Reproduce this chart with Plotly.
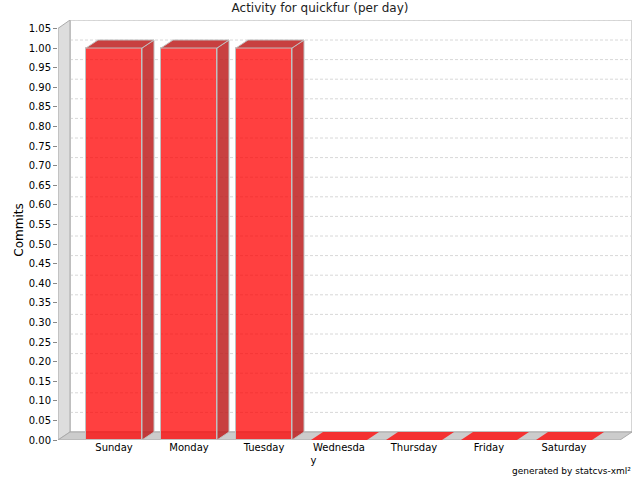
import plotly.graph_objects as go

# ---- data ----
days = ["Sunday", "Monday", "Tuesday", "Wednesday", "Thursday", "Friday", "Saturday"]
day_labels = ["Sunday", "Monday", "Tuesday", "Wednesda<br>y" + "\u00a0" * 16, "Thursday", "Friday", "Saturday"]
commits = [1, 1, 1, 0, 0, 0, 0]
y_ticks = [round(0.05 * k, 2) for k in range(22)]  # 0.00 .. 1.05

# ---- geometry (in data units) ----
px_per_cat = 75.0
px_per_unit = 392.0
x_lo = -(114 - 58) / px_per_cat
x_hi = (632 - 114) / px_per_cat
y_hi = 420 / px_per_unit
dx = 12 / px_per_cat
dy = 8 / px_per_unit
bw = 56 / px_per_cat
x_idx = list(range(len(days)))

WALL = "#dddddd"
FLOOR = "#cccccc"
EDGE = "#aaaaaa"
FRONT = "rgba(255,0,0,0.75)"
DARK = "rgba(190,30,30,0.85)"

fig = go.Figure()
shapes = []

# back wall outline
shapes.append(dict(type="rect", xref="x", yref="y", x0=x_lo + dx, x1=x_hi, y0=dy, y1=y_hi,
                   line=dict(color=EDGE, width=1), fillcolor="white", layer="below"))
# gridlines on back wall
for t in y_ticks[1:]:
    shapes.append(dict(type="line", xref="x", yref="y", x0=x_lo + dx, x1=x_hi, y0=t + dy, y1=t + dy,
                       line=dict(color="#d8d8d8", width=1, dash="3px,2px"), layer="below"))
# left wall
shapes.append(dict(type="path", xref="x", yref="y",
                   path=f"M{x_lo},0 L{x_lo + dx},{dy} L{x_lo + dx},{y_hi} L{x_lo},{y_ticks[-1]} Z",
                   fillcolor=WALL, line=dict(color=EDGE, width=1), layer="below"))
# floor
shapes.append(dict(type="path", xref="x", yref="y",
                   path=f"M{x_lo},0 L{x_lo + dx},{dy} L{x_hi},{dy} L{x_hi - dx},0 Z",
                   fillcolor=FLOOR, line=dict(color=EDGE, width=1), layer="below"))

# zero-value bars: only their top face on the floor
for i, v in zip(x_idx, commits):
    if v == 0:
        fig.add_trace(go.Scatter(
            x=[i - bw / 2, i - bw / 2 + dx, i + bw / 2 + dx, i + bw / 2, i - bw / 2],
            y=[0, dy, dy, 0, 0], fill="toself", mode="lines",
            fillcolor="rgba(245,40,40,0.95)", line=dict(width=0), hoverinfo="skip", showlegend=False))

# front faces
fig.add_trace(go.Bar(x=[i for i, v in zip(x_idx, commits) if v > 0],
                     y=[v for v in commits if v > 0], width=bw,
                     marker=dict(color=FRONT, line=dict(color="#c0c0c0", width=1)),
                     showlegend=False, hoverinfo="skip"))

# side and top faces
for i, v in zip(x_idx, commits):
    if v > 0:
        r = i + bw / 2
        l = i - bw / 2
        fig.add_trace(go.Scatter(x=[r, r + dx, r + dx, r, r], y=[0, dy, v + dy, v, 0],
                                 fill="toself", mode="lines", fillcolor=DARK,
                                 line=dict(color="#c0c0c0", width=1), hoverinfo="skip", showlegend=False))
        fig.add_trace(go.Scatter(x=[l, l + dx, r + dx, r, l], y=[v, v + dy, v + dy, v, v],
                                 fill="toself", mode="lines", fillcolor=DARK,
                                 line=dict(color="#c0c0c0", width=1), hoverinfo="skip", showlegend=False))

fig.update_layout(
    width=640, height=480,
    margin=dict(l=58, r=8, t=20, b=40, autoexpand=False),
    paper_bgcolor="white", plot_bgcolor="white",
    font=dict(family="DejaVu Sans", size=10, color="#000000"),
    title=dict(text="Activity for quickfur (per day)", x=0.5, xanchor="center",
               y=1 - 8 / 480, yanchor="middle", font=dict(size=12, color="#222222")),
    shapes=shapes,
    bargap=0,
    xaxis=dict(range=[x_lo, x_hi], tickvals=x_idx, ticktext=day_labels, showgrid=False,
               zeroline=False, showline=False, ticks="", tickfont=dict(size=10), automargin=False),
    yaxis=dict(range=[0, y_hi], tickvals=y_ticks, tickformat=".2f", showgrid=False,
               zeroline=False, showline=False, ticks="outside", ticklen=4, tickcolor="#888888",
               tickfont=dict(size=10), automargin=False,
               title=dict(text="Commits", font=dict(size=12), standoff=2)),
    annotations=[dict(text="generated by statcvs-xml²", xref="paper", yref="paper",
                      x=1 + 1 / 574, y=-31 / 420, xanchor="right", yanchor="middle",
                      showarrow=False, font=dict(size=9, color="#000000"))],
)

fig.write_html("out.html", config={"displayModeBar": False},
               post_script="document.body.style.margin='0';document.body.style.padding='0';")
